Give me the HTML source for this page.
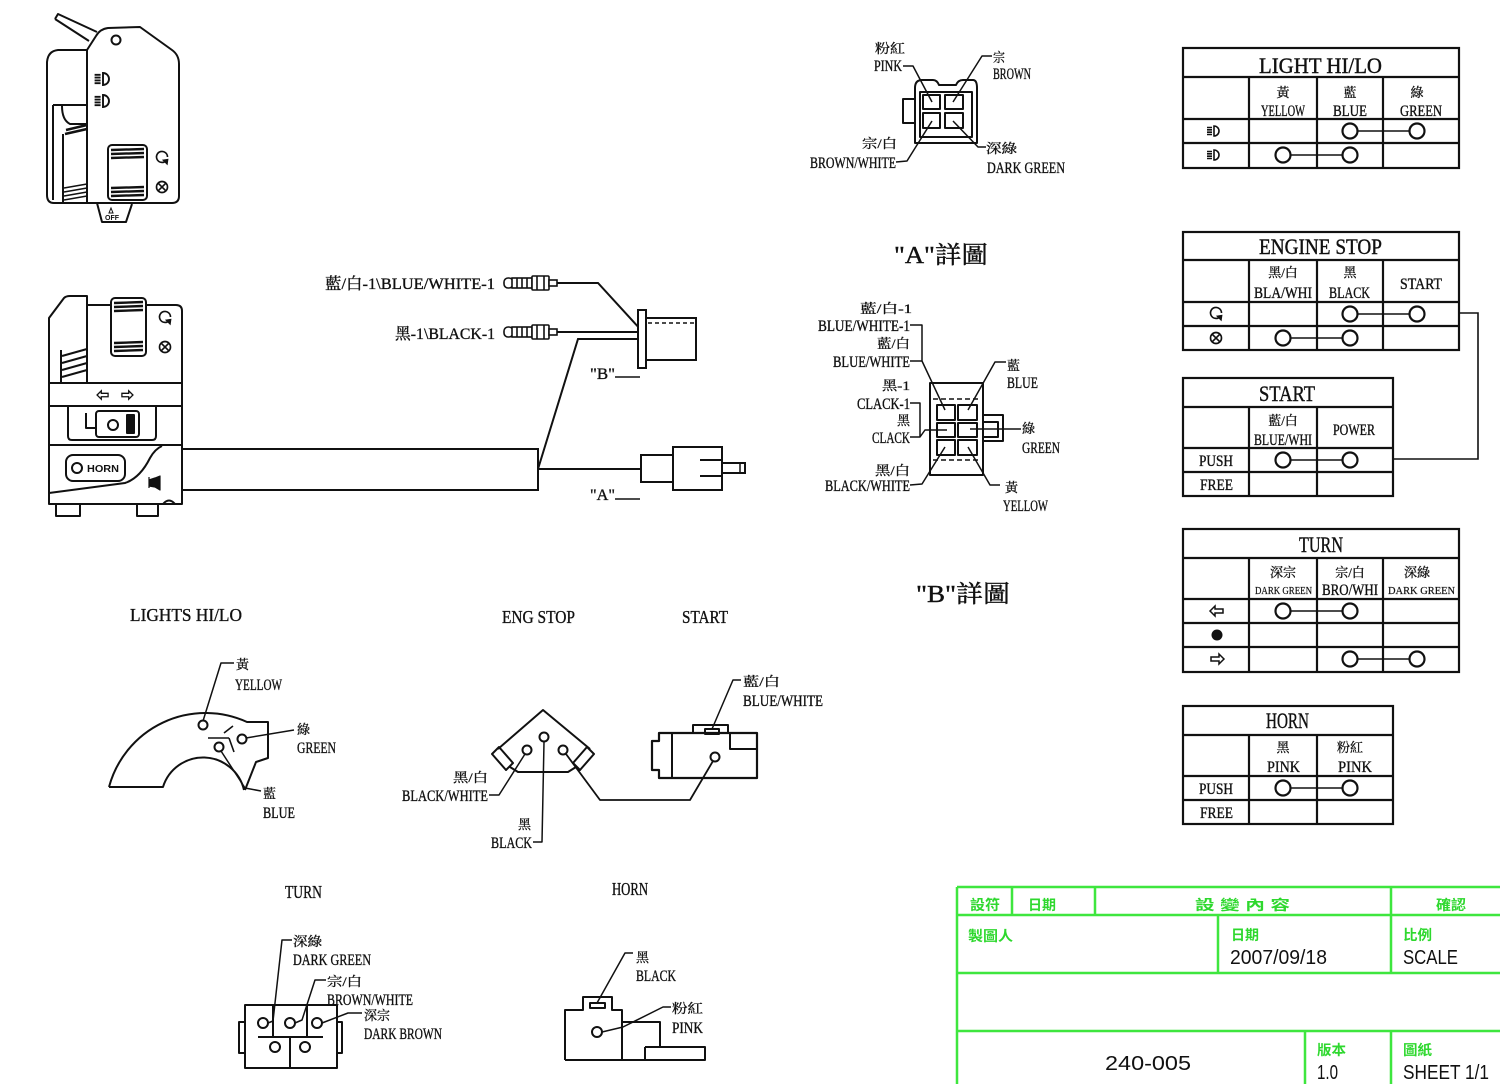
<!DOCTYPE html>
<html><head><meta charset="utf-8"><style>
html,body{margin:0;padding:0;background:#fff;}
svg{display:block}
.t{font-family:"Liberation Serif","Noto Serif CJK SC",serif;font-size:16px;fill:#111;stroke:#111;stroke-width:0.35}
.c{font-family:"Liberation Serif","Noto Serif CJK SC",serif;font-size:13px;fill:#111;stroke:#111;stroke-width:0.3}
.b{font-family:"Liberation Serif","Noto Serif CJK SC",serif;font-size:24px;fill:#111;stroke:#111;stroke-width:0.4}
.h{font-family:"Liberation Serif","Noto Serif CJK SC",serif;font-size:22px;fill:#111;stroke:#111;stroke-width:0.4}
.s{font-family:"Liberation Serif","Noto Serif CJK SC",serif;font-size:18px;fill:#111;stroke:#111;stroke-width:0.35}
.g{font-family:"Liberation Sans","Noto Sans CJK TC",sans-serif;font-size:14px;font-weight:bold;fill:#2ed82e}
.k{font-family:"Liberation Sans","DejaVu Sans",sans-serif;font-size:20px;fill:#111}
</style></head><body>
<svg width="1500" height="1084" viewBox="0 0 1500 1084" xmlns="http://www.w3.org/2000/svg">
<defs>
<g id="hl" fill="none" stroke="#111" stroke-width="1.6">
<path d="M0,-5 L0,5 A5,5 0 0 0 0,-5 Z"/>
<path d="M-7,-3.5 H-2 M-7,-1.2 H-2 M-7,1.2 H-2 M-7,3.5 H-2"/>
</g>
<g id="ca" fill="none" stroke="#111" stroke-width="1.5">
<path d="M3.5,3.5 A5,5 0 1 1 5,0"/>
<path d="M1.5,3 L4.5,6 L5,2.5 Z" fill="#111"/>
</g>
<g id="cx" fill="none" stroke="#111" stroke-width="1.5">
<circle r="5"/>
<path d="M-3.5,-3.5 L3.5,3.5 M3.5,-3.5 L-3.5,3.5"/>
</g>
<g id="la" fill="none" stroke="#111" stroke-width="1.5">
<path d="M-7,0 L-2,-5 L-2,-2 L6,-2 L6,2 L-2,2 L-2,5 Z"/>
</g>
<g id="ra" fill="none" stroke="#111" stroke-width="1.5">
<path d="M7,0 L2,-5 L2,-2 L-6,-2 L-6,2 L2,2 L2,5 Z"/>
</g>
<g id="bc" fill="#fff" stroke="#111" stroke-width="1.6">
<rect x="0" y="-5" width="9" height="10" rx="4"/>
<rect x="8" y="-5" width="20" height="10"/>
<path d="M13,-5 V5 M18,-5 V5 M23,-5 V5"/>
<rect x="28" y="-7" width="17" height="14" rx="1"/>
<path d="M33,-7 V7 M40,-7 V7"/>
<rect x="45" y="-3" width="8" height="6"/>
</g>
</defs>

<!-- ============ TOP-LEFT SWITCH ============ -->
<g fill="none" stroke="#111" stroke-width="2" stroke-linejoin="round">
<path d="M55,19 L58,14 L97,32 M55,19 L89,41"/>
<path d="M87,50 L96,36 Q100,29 108,28 L140,27 L172,50 Q179,55 179,64 L179,196 Q179,203 172,203 L54,203 Q47,203 47,195 L47,62 Q48,51 58,50 L87,50 Z" fill="#fff"/>
<path d="M87,50 L87,203"/>
<path d="M53,105 L87,105 M53,105 L53,200"/>
<path d="M62,106 Q62,120 70,124 L87,124"/>
<path d="M63,134 L63,203"/>
<path d="M66,130 L87,125 M65,134 L87,129" stroke-width="2.5"/>
<path d="M64,188 L87,184 M64,192 L87,188 M64,196 L87,192 M64,200 L87,196" stroke-width="1.6"/>
<circle cx="116" cy="40" r="4.5"/>
<rect x="108" y="145" width="39" height="55" rx="4"/>
<path d="M111,150 L144,149 M111,154 L144,153 M111,158 L144,157" stroke-width="2.4"/>
<path d="M111,188 L144,187 M111,192 L144,191 M111,196 L144,195" stroke-width="2.4"/>
<path d="M97,203 L102,222 L126,222 L132,204"/>
</g>
<use href="#hl" transform="translate(103,79) scale(1.2)"/>
<use href="#hl" transform="translate(103,101) scale(1.2)"/>
<use href="#ca" transform="translate(162,157) scale(1.1)"/>
<use href="#cx" transform="translate(162,187) scale(1.1)"/>
<path d="M111,208 L113,213 L109,213 Z" fill="none" stroke="#111" stroke-width="1"/>
<text x="105" y="220" font-family="Liberation Sans,sans-serif" font-size="7" font-weight="bold" fill="#111">OFF</text>

<!-- ============ MIDDLE SWITCH ============ -->
<g fill="none" stroke="#111" stroke-width="2" stroke-linejoin="round">
<path d="M49,318 L64,298 Q66,296 70,296 L87,296 L87,305 L176,305 Q182,305 182,311 L182,504 L49,504 Z" fill="#fff"/>
<path d="M49,318 L49,504"/>
<path d="M87,296 L87,383"/>
<path d="M61,350 L61,383"/>
<path d="M62,356 L87,349 M62,363 L87,356 M62,370 L87,363 M62,377 L87,370" stroke-width="2.2"/>
<rect x="111" y="298" width="35" height="58" rx="4" fill="#fff"/>
<path d="M114,303 L143,302 M114,307 L143,306 M114,311 L143,310" stroke-width="2.4"/>
<path d="M114,343 L143,342 M114,347 L143,346 M114,351 L143,350" stroke-width="2.4"/>
<path d="M49,383 L182,383 M49,406 L182,406 M49,445 L182,445"/>
<path d="M68,406 L68,436 Q68,440 72,440 L152,440 Q156,440 156,436 L156,406"/>
<path d="M86,413 L86,428 L96,428"/>
<rect x="96" y="411" width="43" height="26" rx="3"/>
<circle cx="113" cy="425" r="5"/>
<rect x="127" y="415" width="7" height="18" fill="#111"/>
<rect x="66" y="455" width="59" height="26" rx="7"/>
<circle cx="77" cy="468" r="5"/>
<path d="M49,493 L125,483 Q140,478 150,458 Q155,449 162,446"/>
<path d="M56,504 L56,516 L80,516 L80,504 M137,504 L137,516 L158,516 L158,504 M163,504 Q169,497 175,504"/>
<path d="M149,477 L149,488 M149,480 L155,478 L160,476 L160,490 L155,487 L149,486" fill="#111" stroke-width="1.2"/>
</g>
<text x="87" y="472" font-family="Liberation Sans,sans-serif" font-size="10" font-weight="bold" fill="#111" textLength="32" lengthAdjust="spacingAndGlyphs">HORN</text>
<use href="#ca" transform="translate(165,317) scale(1.1)"/>
<use href="#cx" transform="translate(165,347) scale(1.1)"/>
<use href="#la" transform="translate(103,395) scale(0.85)"/>
<use href="#ra" transform="translate(127,395) scale(0.85)"/>

<!-- tube and wires -->
<g fill="none" stroke="#111" stroke-width="2">
<rect x="182" y="449" width="356" height="41" fill="#fff"/>
<path d="M538,469 L641,469"/>
<path d="M538,469 L578,339 L641,339"/>
<path d="M557,283 L598,283 L641,330"/>
<path d="M557,332 L641,332"/>
<rect x="638" y="310" width="8" height="58" fill="#fff"/>
<path d="M646,318 L696,318 L696,360 L646,360"/>
<path d="M648,323 L694,323" stroke-dasharray="4,3" stroke-width="1.5"/>
<rect x="641" y="455" width="32" height="27" fill="#fff"/>
<rect x="673" y="447" width="49" height="43" fill="#fff"/>
<path d="M700,460 L722,460 M700,476 L722,476"/>
<rect x="722" y="463" width="23" height="10" fill="#fff"/>
<path d="M740,463 L740,473" stroke-width="1.5"/>
<path d="M615,377 L640,377 M615,499 L640,499" stroke-width="1.6"/>
</g>
<use href="#bc" transform="translate(504,283)"/>
<use href="#bc" transform="translate(504,332)"/>
<text class="t" x="325" y="289" textLength="170" lengthAdjust="spacingAndGlyphs">藍/白-1\BLUE/WHITE-1</text>
<text class="t" x="395" y="339" textLength="100" lengthAdjust="spacingAndGlyphs">黑-1\BLACK-1</text>
<text class="t" x="590" y="379" textLength="25" lengthAdjust="spacingAndGlyphs">"B"</text>
<text class="t" x="590" y="500" textLength="25" lengthAdjust="spacingAndGlyphs">"A"</text>

<!-- ============ "A" DETAIL ============ -->
<g fill="none" stroke="#111" stroke-width="2" stroke-linejoin="round">
<path d="M915,143 L915,88 Q915,80 922,80 L933,80 Q937,80 939,85 L956,85 Q958,80 963,80 L973,80 Q977,80 977,88 L977,143 Z"/>
<rect x="903" y="99" width="12" height="24"/>
<rect x="920" y="92" width="52" height="45"/>
<rect x="923" y="95" width="17" height="14"/>
<rect x="945" y="95" width="18" height="14"/>
<rect x="923" y="113" width="17" height="15"/>
<rect x="945" y="113" width="18" height="15"/>
<path d="M903,66 L913,66 L932,102 M953,102 L982,56 L992,56 M896,162 L907,161 L932,121 M953,121 L978,147 L986,147" stroke-width="1.5"/>
</g>
<text class="c" x="875" y="53" textLength="30" lengthAdjust="spacingAndGlyphs">粉紅</text>
<text class="t" x="874" y="71" textLength="28" lengthAdjust="spacingAndGlyphs">PINK</text>
<text class="c" x="993" y="62" textLength="12" lengthAdjust="spacingAndGlyphs">宗</text>
<text class="t" x="993" y="79" textLength="38" lengthAdjust="spacingAndGlyphs">BROWN</text>
<text class="c" x="862" y="148" textLength="35" lengthAdjust="spacingAndGlyphs">宗/白</text>
<text class="t" x="810" y="168" textLength="86" lengthAdjust="spacingAndGlyphs">BROWN/WHITE</text>
<text class="c" x="986" y="153" textLength="31" lengthAdjust="spacingAndGlyphs">深綠</text>
<text class="t" x="987" y="173" textLength="78" lengthAdjust="spacingAndGlyphs">DARK GREEN</text>
<text class="b" x="894" y="263" textLength="94" lengthAdjust="spacingAndGlyphs">"A"詳圖</text>

<!-- ============ "B" DETAIL ============ -->
<g fill="none" stroke="#111" stroke-width="2" stroke-linejoin="round">
<rect x="930" y="383" width="53" height="92"/>
<path d="M933,399 L980,399 M933,460 L980,460" stroke-dasharray="5,3" stroke-width="1.5"/>
<rect x="937" y="405" width="18" height="15"/>
<rect x="958" y="405" width="19" height="15"/>
<rect x="937" y="423" width="18" height="14"/>
<rect x="958" y="423" width="19" height="14"/>
<rect x="937" y="440" width="18" height="15"/>
<rect x="958" y="440" width="19" height="15"/>
<path d="M983,415 L1003,415 L1003,441 L983,441 M983,422 L998,422 L998,437 L983,437"/>
<path d="M910,325 L922,325 L922,361 M910,361 L922,361 L945,410 M910,403 L920,403 L920,437 M910,437 L920,437 L925,430 L947,430 M910,485 L922,484 L945,447 M968,410 L995,362 L1006,362 M970,429 L1021,429 M968,447 L990,485 L1000,485" stroke-width="1.5"/>
</g>
<text class="c" x="860" y="313" textLength="52" lengthAdjust="spacingAndGlyphs">藍/白-1</text>
<text class="t" x="818" y="331" textLength="92" lengthAdjust="spacingAndGlyphs">BLUE/WHITE-1</text>
<text class="c" x="877" y="348" textLength="33" lengthAdjust="spacingAndGlyphs">藍/白</text>
<text class="t" x="833" y="367" textLength="77" lengthAdjust="spacingAndGlyphs">BLUE/WHITE</text>
<text class="c" x="882" y="390" textLength="28" lengthAdjust="spacingAndGlyphs">黑-1</text>
<text class="t" x="857" y="409" textLength="53" lengthAdjust="spacingAndGlyphs">CLACK-1</text>
<text class="c" x="897" y="425" textLength="13" lengthAdjust="spacingAndGlyphs">黑</text>
<text class="t" x="872" y="443" textLength="38" lengthAdjust="spacingAndGlyphs">CLACK</text>
<text class="c" x="875" y="475" textLength="35" lengthAdjust="spacingAndGlyphs">黑/白</text>
<text class="t" x="825" y="491" textLength="85" lengthAdjust="spacingAndGlyphs">BLACK/WHITE</text>
<text class="c" x="1007" y="370" textLength="13" lengthAdjust="spacingAndGlyphs">藍</text>
<text class="t" x="1007" y="388" textLength="31" lengthAdjust="spacingAndGlyphs">BLUE</text>
<text class="c" x="1022" y="433" textLength="13" lengthAdjust="spacingAndGlyphs">綠</text>
<text class="t" x="1022" y="453" textLength="38" lengthAdjust="spacingAndGlyphs">GREEN</text>
<text class="c" x="1005" y="492" textLength="13" lengthAdjust="spacingAndGlyphs">黃</text>
<text class="t" x="1003" y="511" textLength="45" lengthAdjust="spacingAndGlyphs">YELLOW</text>
<text class="b" x="916" y="602" textLength="94" lengthAdjust="spacingAndGlyphs">"B"詳圖</text>

<!-- ============ LIGHTS HI/LO ============ -->
<g fill="none" stroke="#111" stroke-width="2" stroke-linejoin="round">
<path d="M109,787 A100,100 0 0 1 247,722 L268,722 L268,758 L256,762 L245,790"/>
<path d="M109,787 L163,787 A42,42 0 0 1 244,790"/>
<circle cx="203" cy="725" r="4.5"/>
<circle cx="242" cy="739" r="4.5"/>
<circle cx="219" cy="747" r="4.5"/>
<path d="M208,738 L229,738 M224,733 L233,726 M229,738 L234,752" stroke-width="1.6"/>
<path d="M203,721 L221,663 L234,663 M246,738 L294,730 M221,751 L245,788 L261,791" stroke-width="1.5"/>
</g>
<text class="s" x="130" y="621" textLength="112" lengthAdjust="spacingAndGlyphs">LIGHTS HI/LO</text>
<text class="c" x="236" y="669" textLength="13" lengthAdjust="spacingAndGlyphs">黃</text>
<text class="t" x="235" y="690" textLength="47" lengthAdjust="spacingAndGlyphs">YELLOW</text>
<text class="c" x="297" y="734" textLength="13" lengthAdjust="spacingAndGlyphs">綠</text>
<text class="t" x="297" y="753" textLength="39" lengthAdjust="spacingAndGlyphs">GREEN</text>
<text class="c" x="263" y="798" textLength="13" lengthAdjust="spacingAndGlyphs">藍</text>
<text class="t" x="263" y="818" textLength="32" lengthAdjust="spacingAndGlyphs">BLUE</text>

<!-- ============ ENG STOP / START ============ -->
<g fill="none" stroke="#111" stroke-width="2" stroke-linejoin="round">
<path d="M498,749 L543,710 L590,749"/>
<polygon points="492,754 499,747 513,763 506,770"/>
<polygon points="594,754 587,747 573,763 580,770"/>
<path d="M510,767 L518,772 L568,772 L576,767"/>
<circle cx="527" cy="750" r="4.5"/>
<circle cx="544" cy="737" r="4.5"/>
<circle cx="563" cy="750" r="4.5"/>
<path d="M525,754 L499,795 L489,795 M544,742 L542,842 L533,842" stroke-width="1.5"/>
<path d="M566,754 L600,800 L690,800 L713,761" stroke-width="1.8"/>
<path d="M659,733 L757,733 L757,778 L659,778 L659,770 L652,770 L652,741 L659,741 Z" stroke-width="2.2"/>
<path d="M672,733 L672,778"/>
<rect x="693" y="725" width="35" height="8"/>
<rect x="705" y="729" width="14" height="5"/>
<path d="M730,733 L730,749 L757,749"/>
<circle cx="715" cy="757" r="4.5"/>
<path d="M712,729 L733,680 L741,680" stroke-width="1.5"/>
</g>
<text class="s" x="502" y="623" textLength="73" lengthAdjust="spacingAndGlyphs">ENG STOP</text>
<text class="s" x="682" y="623" textLength="46" lengthAdjust="spacingAndGlyphs">START</text>
<text class="c" x="453" y="782" textLength="35" lengthAdjust="spacingAndGlyphs">黑/白</text>
<text class="t" x="402" y="801" textLength="86" lengthAdjust="spacingAndGlyphs">BLACK/WHITE</text>
<text class="c" x="518" y="829" textLength="13" lengthAdjust="spacingAndGlyphs">黑</text>
<text class="t" x="491" y="848" textLength="41" lengthAdjust="spacingAndGlyphs">BLACK</text>
<text class="c" x="743" y="686" textLength="37" lengthAdjust="spacingAndGlyphs">藍/白</text>
<text class="t" x="743" y="706" textLength="80" lengthAdjust="spacingAndGlyphs">BLUE/WHITE</text>

<!-- ============ TURN / HORN ============ -->
<g fill="none" stroke="#111" stroke-width="2" stroke-linejoin="round">
<rect x="245" y="1005" width="92" height="63"/>
<rect x="239" y="1022" width="6" height="31"/>
<rect x="337" y="1022" width="5" height="31"/>
<circle cx="263" cy="1023" r="5"/>
<circle cx="290" cy="1023" r="5"/>
<circle cx="317" cy="1023" r="5"/>
<path d="M273,1005 L273,1037 M307,1005 L307,1037 M258,1037 L323,1037 M290,1037 L290,1068"/>
<circle cx="275" cy="1047" r="5"/>
<circle cx="305" cy="1047" r="5"/>
<path d="M268,1023 L273,1021 L282,940 L292,940 M295,1023 L302,1020 L315,980 L326,980 M322,1023 L348,1013 L362,1013" stroke-width="1.5"/>
<path d="M565,1060 L565,1010 L583,1010 L583,997 L612,997 L612,1010 L622,1010 L622,1060 M622,1022 L660,1022 L660,1047 M645,1047 L705,1047 L705,1060 L565,1060 M645,1047 L645,1060"/>
<rect x="590" y="1003" width="15" height="5"/>
<circle cx="597" cy="1032" r="5"/>
<path d="M597,1003 L625,953 L633,953 M602,1032 L623,1027 L663,1007 L671,1007" stroke-width="1.5"/>
</g>
<text class="s" x="285" y="898" textLength="37" lengthAdjust="spacingAndGlyphs">TURN</text>
<text class="s" x="612" y="895" textLength="36" lengthAdjust="spacingAndGlyphs">HORN</text>
<text class="c" x="293" y="946" textLength="29" lengthAdjust="spacingAndGlyphs">深綠</text>
<text class="t" x="293" y="965" textLength="78" lengthAdjust="spacingAndGlyphs">DARK GREEN</text>
<text class="c" x="327" y="986" textLength="35" lengthAdjust="spacingAndGlyphs">宗/白</text>
<text class="t" x="327" y="1005" textLength="86" lengthAdjust="spacingAndGlyphs">BROWN/WHITE</text>
<text class="c" x="364" y="1020" textLength="26" lengthAdjust="spacingAndGlyphs">深宗</text>
<text class="t" x="364" y="1039" textLength="78" lengthAdjust="spacingAndGlyphs">DARK BROWN</text>
<text class="c" x="636" y="962" textLength="13" lengthAdjust="spacingAndGlyphs">黑</text>
<text class="t" x="636" y="981" textLength="40" lengthAdjust="spacingAndGlyphs">BLACK</text>
<text class="c" x="672" y="1013" textLength="31" lengthAdjust="spacingAndGlyphs">粉紅</text>
<text class="t" x="672" y="1033" textLength="31" lengthAdjust="spacingAndGlyphs">PINK</text>

<!-- ============ TABLES ============ -->
<g fill="none" stroke="#111" stroke-width="2.2">
<rect x="1183" y="48" width="276" height="120"/>
<path d="M1183,77 H1459 M1183,119 H1459 M1183,143 H1459 M1249,77 V168 M1317,77 V168 M1383,77 V168"/>
<path d="M1357,131 H1410 M1290,155 H1343" stroke-width="1.6"/>
<circle cx="1350" cy="131" r="7.5" fill="#fff"/><circle cx="1417" cy="131" r="7.5" fill="#fff"/>
<circle cx="1283" cy="155" r="7.5" fill="#fff"/><circle cx="1350" cy="155" r="7.5" fill="#fff"/>
<rect x="1183" y="232" width="276" height="118"/>
<path d="M1183,260 H1459 M1183,302 H1459 M1183,326 H1459 M1249,260 V350 M1317,260 V350 M1383,260 V350"/>
<path d="M1357,314 H1410 M1290,338 H1343" stroke-width="1.6"/>
<circle cx="1350" cy="314" r="7.5" fill="#fff"/><circle cx="1417" cy="314" r="7.5" fill="#fff"/>
<circle cx="1283" cy="338" r="7.5" fill="#fff"/><circle cx="1350" cy="338" r="7.5" fill="#fff"/>
<path d="M1459,313 H1478 V459 H1393" stroke-width="1.6"/>
<rect x="1183" y="378" width="210" height="118"/>
<path d="M1183,407 H1393 M1183,448 H1393 M1183,472 H1393 M1249,407 V496 M1317,407 V496"/>
<path d="M1290,460 H1343" stroke-width="1.6"/>
<circle cx="1283" cy="460" r="7.5" fill="#fff"/><circle cx="1350" cy="460" r="7.5" fill="#fff"/>
<rect x="1183" y="529" width="276" height="143"/>
<path d="M1183,558 H1459 M1183,599 H1459 M1183,623 H1459 M1183,647 H1459 M1249,558 V672 M1317,558 V672 M1383,558 V672"/>
<path d="M1290,611 H1343 M1357,659 H1410" stroke-width="1.6"/>
<circle cx="1283" cy="611" r="7.5" fill="#fff"/><circle cx="1350" cy="611" r="7.5" fill="#fff"/>
<circle cx="1350" cy="659" r="7.5" fill="#fff"/><circle cx="1417" cy="659" r="7.5" fill="#fff"/>
<rect x="1183" y="706" width="210" height="118"/>
<path d="M1183,735 H1393 M1183,776 H1393 M1183,800 H1393 M1249,735 V824 M1317,735 V824"/>
<path d="M1290,788 H1343" stroke-width="1.6"/>
<circle cx="1283" cy="788" r="7.5" fill="#fff"/><circle cx="1350" cy="788" r="7.5" fill="#fff"/>
</g>
<use href="#hl" transform="translate(1214,131)"/>
<use href="#hl" transform="translate(1214,155)"/>
<use href="#ca" transform="translate(1216,313) scale(1.1)"/>
<use href="#cx" transform="translate(1216,338) scale(1.1)"/>
<use href="#la" transform="translate(1217,611)"/>
<circle cx="1217" cy="635" r="5.5" fill="#111"/>
<use href="#ra" transform="translate(1217,659)"/>

<text class="h" x="1259" y="73" textLength="123" lengthAdjust="spacingAndGlyphs">LIGHT HI/LO</text>
<text class="c" x="1283" y="97" text-anchor="middle">黃</text>
<text class="t" x="1261" y="116" textLength="44" lengthAdjust="spacingAndGlyphs">YELLOW</text>
<text class="c" x="1350" y="97" text-anchor="middle">藍</text>
<text class="t" x="1333" y="116" textLength="34" lengthAdjust="spacingAndGlyphs">BLUE</text>
<text class="c" x="1417" y="97" text-anchor="middle">綠</text>
<text class="t" x="1400" y="116" textLength="42" lengthAdjust="spacingAndGlyphs">GREEN</text>

<text class="h" x="1259" y="254" textLength="123" lengthAdjust="spacingAndGlyphs">ENGINE STOP</text>
<text class="c" x="1283" y="277" text-anchor="middle">黑/白</text>
<text class="t" x="1254" y="298" textLength="58" lengthAdjust="spacingAndGlyphs">BLA/WHI</text>
<text class="c" x="1350" y="277" text-anchor="middle">黑</text>
<text class="t" x="1329" y="298" textLength="41" lengthAdjust="spacingAndGlyphs">BLACK</text>
<text class="t" x="1400" y="289" textLength="42" lengthAdjust="spacingAndGlyphs">START</text>

<text class="h" x="1259" y="401" textLength="56" lengthAdjust="spacingAndGlyphs">START</text>
<text class="c" x="1283" y="425" text-anchor="middle">藍/白</text>
<text class="t" x="1254" y="445" textLength="58" lengthAdjust="spacingAndGlyphs">BLUE/WHI</text>
<text class="t" x="1333" y="435" textLength="42" lengthAdjust="spacingAndGlyphs">POWER</text>
<text class="t" x="1199" y="466" textLength="34" lengthAdjust="spacingAndGlyphs">PUSH</text>
<text class="t" x="1200" y="490" textLength="33" lengthAdjust="spacingAndGlyphs">FREE</text>

<text class="h" x="1299" y="552" textLength="44" lengthAdjust="spacingAndGlyphs">TURN</text>
<text class="c" x="1283" y="577" text-anchor="middle">深宗</text>
<text class="t" x="1255" y="594" style="font-size:11px;stroke-width:0.2" textLength="57" lengthAdjust="spacingAndGlyphs">DARK GREEN</text>
<text class="c" x="1350" y="577" text-anchor="middle">宗/白</text>
<text class="t" x="1322" y="595" textLength="56" lengthAdjust="spacingAndGlyphs">BRO/WHI</text>
<text class="c" x="1417" y="577" text-anchor="middle">深綠</text>
<text class="t" x="1388" y="594" style="font-size:11px;stroke-width:0.2" textLength="67" lengthAdjust="spacingAndGlyphs">DARK GREEN</text>

<text class="h" x="1266" y="728" textLength="43" lengthAdjust="spacingAndGlyphs">HORN</text>
<text class="c" x="1283" y="752" text-anchor="middle">黑</text>
<text class="t" x="1267" y="772" textLength="33" lengthAdjust="spacingAndGlyphs">PINK</text>
<text class="c" x="1350" y="752" text-anchor="middle">粉紅</text>
<text class="t" x="1338" y="772" textLength="34" lengthAdjust="spacingAndGlyphs">PINK</text>
<text class="t" x="1199" y="794" textLength="34" lengthAdjust="spacingAndGlyphs">PUSH</text>
<text class="t" x="1200" y="818" textLength="33" lengthAdjust="spacingAndGlyphs">FREE</text>

<!-- ============ TITLE BLOCK ============ -->
<g fill="none" stroke="#3ee63e" stroke-width="2.5">
<path d="M957,887 H1500 M957,915 H1500 M957,973 H1500 M957,1031 H1500 M957,887 V1084"/>
<path d="M1012,887 V915 M1095,887 V915 M1391,887 V973 M1218,915 V973 M1305,1031 V1084 M1391,1031 V1084"/>
</g>
<text class="g" x="970" y="910" textLength="30" lengthAdjust="spacingAndGlyphs">設符</text>
<text class="g" x="1028" y="910" textLength="28" lengthAdjust="spacingAndGlyphs">日期</text>
<text class="g" x="1195" y="910" textLength="95" lengthAdjust="spacingAndGlyphs">設 變 內 容</text>
<text class="g" x="1436" y="910" textLength="30" lengthAdjust="spacingAndGlyphs">確認</text>
<text class="g" x="968" y="941" textLength="45" lengthAdjust="spacingAndGlyphs">製圖人</text>
<text class="g" x="1231" y="940" textLength="28" lengthAdjust="spacingAndGlyphs">日期</text>
<text class="g" x="1403" y="940" textLength="29" lengthAdjust="spacingAndGlyphs">比例</text>
<text class="k" x="1230" y="964" textLength="97" lengthAdjust="spacingAndGlyphs">2007/09/18</text>
<text class="k" x="1403" y="964" textLength="55" lengthAdjust="spacingAndGlyphs">SCALE</text>
<text class="k" x="1105" y="1070" textLength="86" lengthAdjust="spacingAndGlyphs">240-005</text>
<text class="g" x="1317" y="1055" textLength="29" lengthAdjust="spacingAndGlyphs">版本</text>
<text class="g" x="1403" y="1055" textLength="29" lengthAdjust="spacingAndGlyphs">圖紙</text>
<text class="k" x="1317" y="1079" textLength="21" lengthAdjust="spacingAndGlyphs">1.0</text>
<text class="k" x="1403" y="1079" textLength="86" lengthAdjust="spacingAndGlyphs">SHEET 1/1</text>
</svg>
</body></html>
